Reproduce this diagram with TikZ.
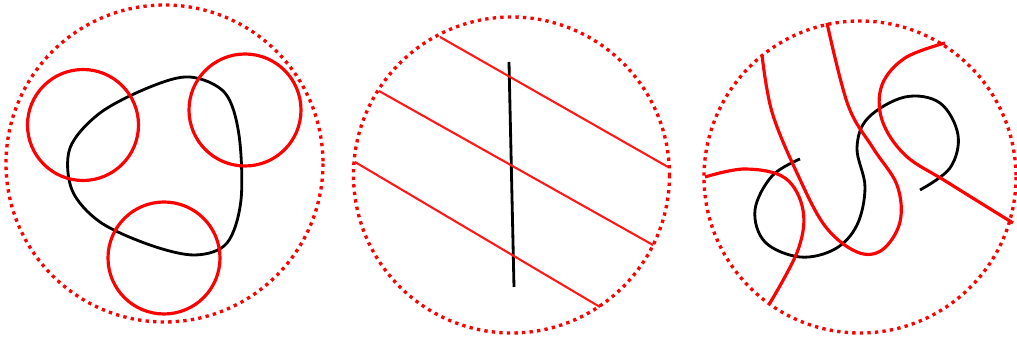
\documentclass[tikz,border=0pt]{standalone}
\begin{document}
\begin{tikzpicture}[x=0.01cm,y=-0.01cm,
  bound/.style={draw=red,line width=0.95pt,dash pattern=on 0.95pt off 1.2pt},
  redc/.style={draw=red,line width=0.9pt},
  redthin/.style={draw=red!90,line width=0.6pt},
  blk/.style={draw=black,line width=0.8pt}]
\useasboundingbox (0,0) rectangle (1017,340);
% panel 1
\draw[bound] (164.5,163.5) circle (158.5);
\draw[blk] plot[smooth cycle,tension=0.55] coordinates {(190,77) (225,93) (239,135) (241,200) (227,243) (195,255) (150,245) (100,222) (72,190) (70,148) (100,113) (150,87)};
\draw[redc] (83,125) circle (55.5);
\draw[redc] (245,110) circle (56);
\draw[redc] (164,258) circle (56);
% panel 2
\draw[bound] (511.5,175) circle (158);
\draw[blk] (509,62) -- (514,287);
\draw[redthin] (440,37) -- (668,167);
\draw[redthin] (379,91) -- (653,245);
\draw[redthin] (355,162) -- (600,307);
% panel 3
\draw[bound] (860,177) circle (156);
\draw[blk] plot[smooth,tension=0.6] coordinates {(800,159) (772,176) (755,210) (765,242) (800,257) (835,249) (857,225) (865,187) (857,148) (868,118) (905,97) (940,103) (958,135) (950,168) (920,190)};
\draw[redc] plot[smooth,tension=0.6] coordinates {(762,55) (772,112) (797,173) (825,226) (857,252) (882,250) (900,222) (897,185) (873,148) (848,105) (827,23)};
\draw[redc] plot[smooth,tension=0.6] coordinates {(945,43) (905,58) (882,85) (882,120) (905,155) (947,182) (1013,223)};
\draw[redc] plot[smooth,tension=0.6] coordinates {(705,177) (745,169) (785,178) (803,210) (798,250) (770,303)};
\end{tikzpicture}
\end{document}
